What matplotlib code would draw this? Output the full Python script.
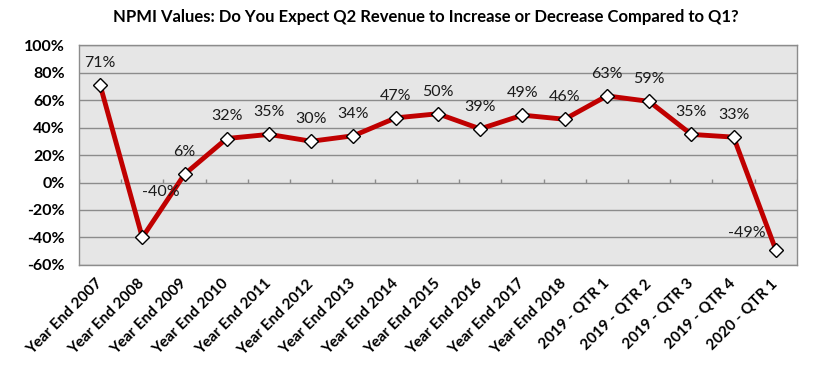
import numpy as np
import matplotlib.pyplot as plt
from matplotlib.ticker import FuncFormatter

categories = ['Year End 2007', 'Year End 2008', 'Year End 2009', 'Year End 2010',
              'Year End 2011', 'Year End 2012', 'Year End 2013', 'Year End 2014',
              'Year End 2015', 'Year End 2016', 'Year End 2017', 'Year End 2018',
              '2019 - QTR 1', '2019 - QTR 2', '2019 - QTR 3', '2019 - QTR 4',
              '2020 - QTR 1']
npmi = [71, -40, 6, 32, 35, 30, 34, 47, 50, 39, 49, 46, 63, 59, 35, 33, -49]
y_ticks = [-60, -40, -20, 0, 20, 40, 60, 80, 100]

title = 'NPMI Values: Do You Expect Q2 Revenue to Increase or Decrease Compared to Q1?'

plt.rcParams['font.family'] = ['Lato', 'DejaVu Sans']

fig = plt.figure(figsize=(8.26, 3.68), dpi=100)
ax = fig.add_axes([0.0956, 0.2799, 0.8692, 0.5978])
ax.set_facecolor('#E6E6E6')

x = np.arange(len(categories))
ax.set_xlim(-0.5, len(categories) - 0.5)
ax.set_ylim(-60, 100)
ax.set_yticks(y_ticks)
ax.yaxis.set_major_formatter(FuncFormatter(lambda v, p: f'{v:.0f}%'))
for v in y_ticks:
    ax.axhline(v, color='#8C8C8C', lw=1.0, zorder=1)

# small tick marks on the zero line between categories
ax.vlines(np.arange(len(categories) + 1) - 0.5, 0, 2.5, color='#8C8C8C', lw=1.0, zorder=1)

ax.plot(x, npmi, color='#C00000', lw=3.5, marker='D', ms=7.5,
        markerfacecolor='white', markeredgecolor='black', markeredgewidth=1.0, zorder=3)

for i, v in enumerate(npmi):
    dx, dy = 0, 16
    if i == 1:
        dx, dy = 13, 33
    elif i == len(npmi) - 1:
        dx, dy = -21, 12
    ax.annotate(f'{v}%', (i, v), xytext=(dx, dy), textcoords='offset points',
                ha='center', va='center', fontsize=11.5, color='#1a1a1a', zorder=4)

ax.set_xticks(x)
ax.set_xticklabels(categories, rotation=45, ha='right', va='center',
                   rotation_mode='anchor', fontsize=11, fontweight='bold')
ax.tick_params(axis='x', length=0, pad=12)
ax.tick_params(axis='y', length=0, pad=10, labelsize=11.5)
for lbl in ax.get_yticklabels():
    lbl.set_fontweight('bold')

for s in ax.spines.values():
    s.set_color('#8C8C8C')
    s.set_linewidth(1.0)

fig.text(0.516, 0.955, title, ha='center', va='center', fontsize=12, fontweight='bold')

fig.savefig('out.png', dpi=100)
